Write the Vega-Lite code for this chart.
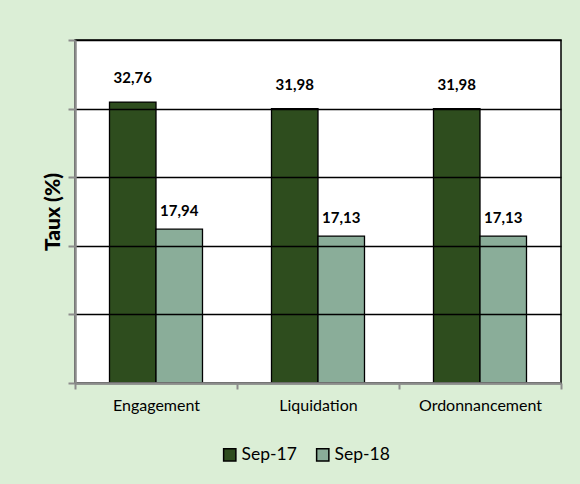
{
  "$schema": "https://vega.github.io/schema/vega-lite/v6.json",
  "autosize": {"type": "none"},
  "padding": {"left": 75, "top": 40, "right": 19, "bottom": 101},
  "width": 486,
  "height": 343,
  "background": "#DBEED6",
  "config": {
    "locale": {"number": {"decimal": ",", "thousands": ".", "grouping": [3], "currency": ["", " €"]}},
    "view": {"fill": "white", "stroke": "black", "strokeWidth": 1.5},
    "font": "Lato"
  },
  "data": {
    "values": [
      {"categorie": "Engagement", "periode": "Sep-17", "taux": 32.76},
      {"categorie": "Engagement", "periode": "Sep-18", "taux": 17.94},
      {"categorie": "Liquidation", "periode": "Sep-17", "taux": 31.98},
      {"categorie": "Liquidation", "periode": "Sep-18", "taux": 17.13},
      {"categorie": "Ordonnancement", "periode": "Sep-17", "taux": 31.98},
      {"categorie": "Ordonnancement", "periode": "Sep-18", "taux": 17.13}
    ]
  },
  "encoding": {
    "x": {
      "field": "categorie", "type": "nominal", "sort": null,
      "scale": {"paddingInner": 0, "paddingOuter": 0},
      "axis": {
        "title": null, "labelAngle": 0, "labelFontSize": 16, "labelColor": "black",
        "labelPadding": 8, "tickBand": "extent", "tickSize": 6, "tickColor": "#8C8C8C",
        "tickWidth": 2, "domainColor": "#8C8C8C", "domainWidth": 2.5, "zindex": 2
      }
    },
    "xOffset": {"field": "periode", "type": "nominal", "scale": {"paddingInner": 0, "paddingOuter": 0.742}},
    "y": {
      "field": "taux", "type": "quantitative",
      "scale": {"domain": [0, 40], "nice": false},
      "axis": {
        "values": [0, 8, 16, 24, 32, 40], "labels": false, "title": "Taux (%)",
        "titleFontSize": 21, "titleFontWeight": 900, "titleColor": "black", "titlePadding": 4,
        "tickSize": 7, "tickColor": "#8C8C8C", "tickWidth": 2, "domainColor": "#8C8C8C", "domainWidth": 2.5,
        "grid": true, "gridColor": "black", "gridWidth": 1.5, "gridOpacity": 1, "zindex": 1
      }
    }
  },
  "layer": [
    {
      "mark": {"type": "bar", "stroke": "black", "strokeWidth": 1.3},
      "encoding": {
        "color": {
          "field": "periode", "type": "nominal",
          "scale": {"domain": ["Sep-17", "Sep-18"], "range": ["#2E4D1E", "#8AAD99"]},
          "legend": {
            "title": null, "orient": "none", "legendX": 146, "legendY": 406, "direction": "horizontal",
            "symbolType": "square", "symbolSize": 150, "symbolStrokeColor": "black", "symbolStrokeWidth": 1.5,
            "labelFontSize": 17.5, "labelColor": "black", "labelOffset": 3, "columnPadding": 16
          }
        }
      }
    },
    {
      "transform": [{"filter": "datum.periode === 'Sep-17'"}],
      "mark": {"type": "text", "fontWeight": "bold", "fontSize": 15, "baseline": "middle", "dy": -24, "color": "black"},
      "encoding": {"text": {"field": "taux", "type": "quantitative", "format": ".2f"}}
    },
    {
      "transform": [{"filter": "datum.periode === 'Sep-18'"}],
      "mark": {"type": "text", "fontWeight": "bold", "fontSize": 15, "baseline": "middle", "dy": -18, "color": "black"},
      "encoding": {"text": {"field": "taux", "type": "quantitative", "format": ".2f"}}
    }
  ]
}
